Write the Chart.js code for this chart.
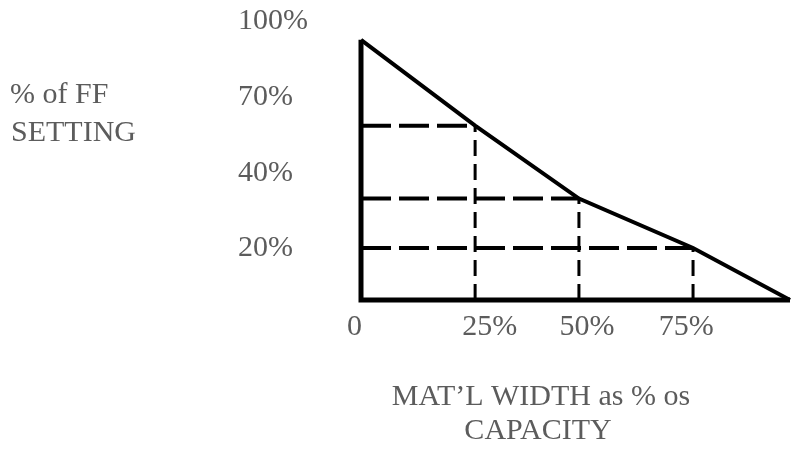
<!DOCTYPE html>
<html>
<head>
<meta charset="utf-8">
<script src="https://cdn.jsdelivr.net/npm/chart.js@4/dist/chart.umd.min.js"></script>
<style>
  html, body { margin: 0; padding: 0; background: #fff; }
  #wrap { width: 792px; height: 451px; position: relative; }
</style>
</head>
<body>
<div id="wrap"><canvas id="chart"></canvas></div>
<script>
// curve points (mat'l width %, FF setting %)
const curveX = [0, 26.6, 50.8, 77.4, 100];
const curveY = [100, 67, 39, 20, 0];

// tick labels and where they sit on the axes
const xTickValues = [-1.5, 30, 52.7, 75.8];
const xTickLabels = ['0', '25%', '50%', '75%'];
const yTickValues = [107.3, 78.1, 48.8, 20];
const yTickLabels = ['100%', '70%', '40%', '20%'];

const yTitle = ['% of FF', 'SETTING'];
const xTitle = ['MAT\u2019L WIDTH as % os', 'CAPACITY'];

const FONT = 'Liberation Serif';
const TEXT = '#5c5c5c';

const curve = curveX.map((x, i) => ({ x: x, y: curveY[i] }));

// dashed guides from each inner curve point back to the axes
const guides = [];
for (let i = 1; i < curve.length - 1; i++) {
  const p = curve[i];
  guides.push({
    data: [{ x: 0, y: p.y }, { x: p.x, y: p.y }],
    borderColor: '#000', borderWidth: 4, borderDash: [30, 8],
    pointRadius: 0, clip: false, order: 3
  });
  guides.push({
    data: [{ x: p.x, y: 0 }, { x: p.x, y: p.y }],
    borderColor: '#000', borderWidth: 3, borderDash: [16, 8],
    pointRadius: 0, clip: false, order: 3
  });
}

// axis titles drawn as plain text
const labelsPlugin = {
  id: 'labels',
  afterDraw(chart) {
    const ctx = chart.ctx;
    ctx.save();
    ctx.fillStyle = TEXT;
    ctx.font = '30px "' + FONT + '"';
    ctx.textBaseline = 'middle';
    ctx.textAlign = 'left';
    ctx.fillText(yTitle[0], 10, 95);
    ctx.fillText(yTitle[1], 11, 133);
    ctx.textAlign = 'center';
    ctx.fillText(xTitle[0], 541, 397);
    ctx.fillText(xTitle[1], 538, 431);
    ctx.restore();
  }
};

new Chart(document.getElementById('chart'), {
  type: 'line',
  data: {
    datasets: [
      {
        data: curve,
        borderColor: '#000', borderWidth: 4,
        pointRadius: 0, tension: 0, clip: false, order: 1
      },
      {
        // the two axis lines
        data: [{ x: 100, y: 0 }, { x: 0, y: 0 }, { x: 0, y: 100 }],
        borderColor: '#000', borderWidth: 5,
        pointRadius: 0, clip: false, order: 2
      },
      ...guides
    ]
  },
  options: {
    responsive: true,
    maintainAspectRatio: false,
    animation: false,
    layout: { padding: { top: 19, right: 2, left: 238, bottom: 0 } },
    plugins: {
      legend: { display: false },
      tooltip: { enabled: false }
    },
    scales: {
      x: {
        type: 'linear',
        min: 0,
        max: 100,
        grid: { display: false },
        border: { display: false },
        afterFit: (s) => { s.height = 151; },
        afterBuildTicks: (s) => { s.ticks = xTickValues.map(v => ({ value: v })); },
        ticks: {
          autoSkip: false,
          maxRotation: 0,
          padding: 1,
          color: TEXT,
          font: { family: FONT, size: 30 },
          callback: (v, i) => xTickLabels[i]
        }
      },
      y: {
        type: 'linear',
        min: 0,
        max: 108,
        grid: { display: false },
        border: { display: false },
        afterFit: (s) => { s.width = 123; },
        afterBuildTicks: (s) => { s.ticks = yTickValues.map(v => ({ value: v })); },
        ticks: {
          autoSkip: false,
          padding: 0,
          crossAlign: 'far',
          color: TEXT,
          font: { family: FONT, size: 30 },
          callback: (v, i) => yTickLabels[i]
        }
      }
    }
  },
  plugins: [labelsPlugin]
});
</script>
</body>
</html>
